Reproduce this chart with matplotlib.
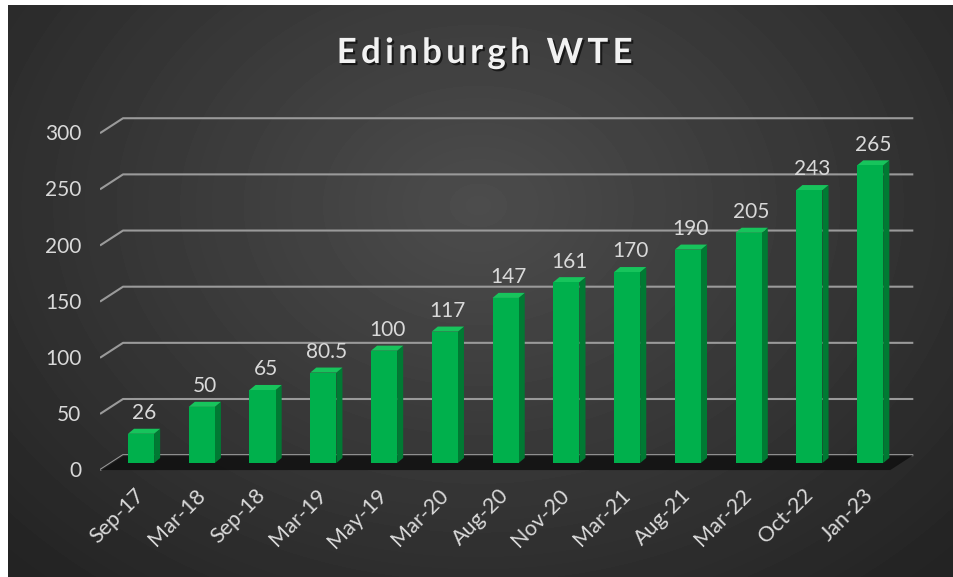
import numpy as np
import matplotlib
matplotlib.use("Agg")
import matplotlib.pyplot as plt
from matplotlib.patches import Polygon
import matplotlib.patheffects as pe

# data
months = ['Sep-17', 'Mar-18', 'Sep-18', 'Mar-19', 'May-19', 'Mar-20', 'Aug-20',
          'Nov-20', 'Mar-21', 'Aug-21', 'Mar-22', 'Oct-22', 'Jan-23']
wte = [26, 50, 65, 80.5, 100, 117, 147, 161, 170, 190, 205, 243, 265]
value_labels = ['26', '50', '65', '80.5', '100', '117', '147', '161', '170',
                '190', '205', '243', '265']
yticks = [0, 50, 100, 150, 200, 250, 300]

plt.rcParams['font.family'] = ['Lato', 'DejaVu Sans']
txt_col = '#d9d9d9'
grid_col = '#9a9a9a'

fig = plt.figure(figsize=(9.54, 5.77), dpi=100)
fig.patch.set_facecolor('white')

# background: dark radial gradient
bg = fig.add_axes([8 / 954, 0, 946 / 954, 572 / 577])
yy, xx = np.mgrid[0:572, 0:946]
r = np.sqrt(((xx - 470) / 650.0) ** 2 + ((yy - 200) / 500.0) ** 2)
shade = np.clip(0.30 - 0.16 * r, 0.14, 0.31)
bg.imshow(shade, cmap='gray', vmin=0, vmax=1, aspect='auto', interpolation='bilinear')
bg.axis('off')

# main axes: y in data units, x in category index
ax = fig.add_axes([100 / 954, (577 - 496.7) / 577, 820 / 954, 404.3 / 577])
ax.set_xlim(-0.675, 12.82)
ax.set_ylim(-30, 330)
ax.axis('off')
ax.patch.set_alpha(0)

n = len(months)
x = np.arange(n)
back_x0, back_x1 = -0.296, 12.71
front_x0 = -0.675
back_off, front_off = 7, -6.3

# gridlines on back wall + diagonal on side
for v in yticks:
    ax.plot([front_x0, back_x0, back_x1], [v + front_off, v + back_off, v + back_off],
            color=grid_col, lw=1.5, solid_capstyle='butt', zorder=1)
    ax.text(-0.98, v + front_off - 1, str(v), color=txt_col, fontsize=15,
            ha='right', va='center')

# floor
floor = Polygon([(front_x0, front_off), (back_x0, back_off), (back_x1, back_off),
                 (back_x1 - 0.38, front_off)], closed=True, facecolor='#101010',
                edgecolor='none', alpha=0.85, zorder=2)
ax.add_patch(floor)

# 3d-looking bars
w = 0.43
dx, dy = 0.1, 4.5
for xi, v, lab in zip(x, wte, value_labels):
    l, rr = xi - w / 2, xi + w / 2
    ax.add_patch(Polygon([(rr, 0), (rr + dx, dy), (rr + dx, v + dy), (rr, v)],
                         closed=True, facecolor='#007a33', edgecolor='none', zorder=3))
    ax.add_patch(Polygon([(l, v), (l + dx, v + dy), (rr + dx, v + dy), (rr, v)],
                         closed=True, facecolor='#17c45c', edgecolor='none', zorder=3))
    ax.add_patch(Polygon([(l, 0), (rr, 0), (rr, v), (l, v)],
                         closed=True, facecolor='#00b04c', edgecolor='none', zorder=4))
    ax.annotate(lab, (xi + 0.05, v + dy), xytext=(0, 4), textcoords='offset points',
                ha='center', va='bottom', color=txt_col, fontsize=15, zorder=5)

# category labels
for xi, m in zip(x, months):
    ax.text(xi, -26, m, rotation=45, rotation_mode='anchor', ha='right',
            va='center', color=txt_col, fontsize=15.5)

# title
fig.text(485 / 954, 1 - 53 / 577, 'E d i n b u r g h   W T E'.replace(' ', '\u2009').replace('\u2009\u2009\u2009', '  '),
         ha='center', va='center', color='#f2f2f2', fontsize=25, fontweight='bold',
         path_effects=[pe.withSimplePatchShadow(offset=(1.5, -1.5), shadow_rgbFace='black', alpha=0.6)])

fig.savefig('out.png', dpi=100, facecolor=fig.get_facecolor())
